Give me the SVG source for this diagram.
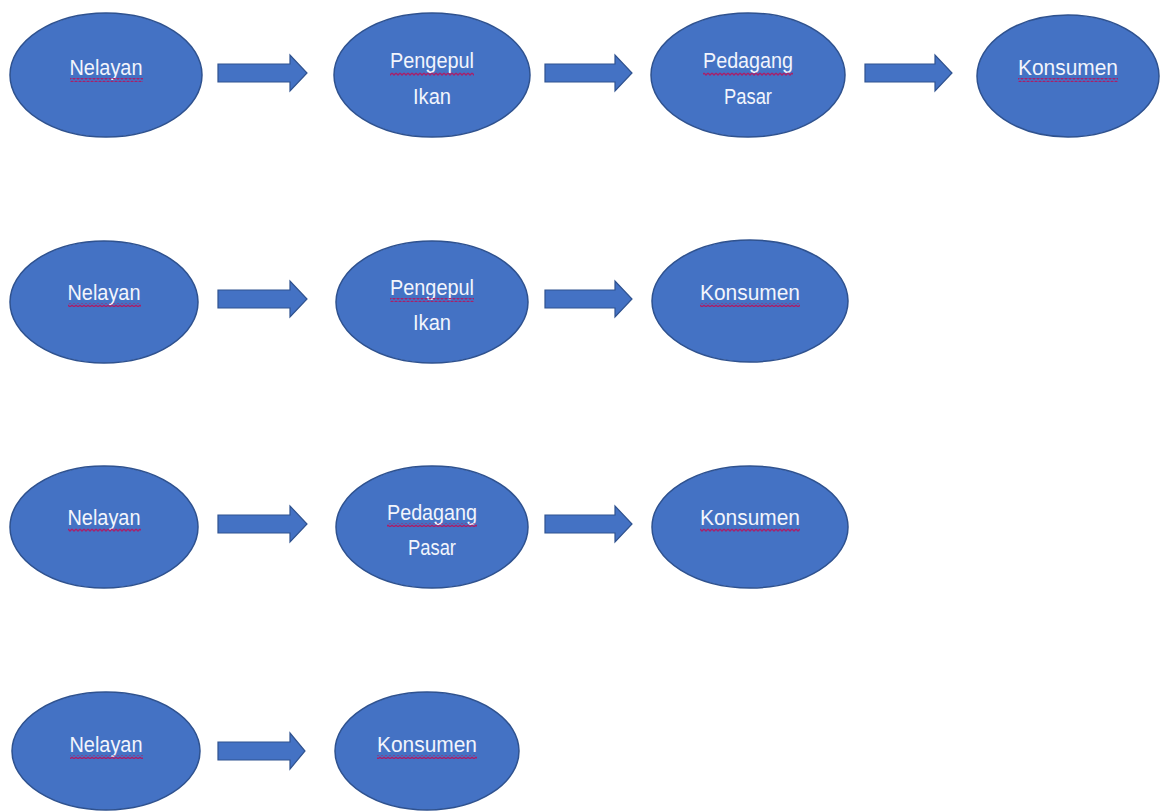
<svg xmlns="http://www.w3.org/2000/svg" width="1160" height="812" viewBox="0 0 1160 812">
<style>
.node ellipse{fill:#4472C4;stroke:#2F528F;stroke-width:1.5}
.node text{font-family:"Liberation Sans",Arial,sans-serif;font-size:22px;fill:#F2F5FC;text-anchor:middle}
.sq{fill:url(#squig)}
#connectors path{fill:#4472C4;stroke:#2F528F;stroke-width:1.2}
</style>
<defs>
<pattern id="squig" patternUnits="userSpaceOnUse" x="0" y="0" width="4" height="4">
<path d="M0,1 L2,3 L4,1" fill="none" stroke="#A8206A" stroke-width="1.4"/>
</pattern>
</defs>
<rect width="1160" height="812" fill="#FFFFFF"/>
<g id="connectors">
<path transform="translate(218,73)" d="M0,-9 H72 V-18 L89,0 L72,18 V9 H0 Z"/>
<path transform="translate(545,73)" d="M0,-9 H70 V-18 L87,0 L70,18 V9 H0 Z"/>
<path transform="translate(865,73)" d="M0,-9 H70 V-18 L87,0 L70,18 V9 H0 Z"/>
<path transform="translate(218,299)" d="M0,-9 H72 V-18 L89,0 L72,18 V9 H0 Z"/>
<path transform="translate(545,299)" d="M0,-9 H70 V-18 L87,0 L70,18 V9 H0 Z"/>
<path transform="translate(218,524)" d="M0,-9 H72 V-18 L89,0 L72,18 V9 H0 Z"/>
<path transform="translate(545,524)" d="M0,-9 H70 V-18 L87,0 L70,18 V9 H0 Z"/>
<path transform="translate(218,751)" d="M0,-9 H72 V-18 L87,0 L72,18 V9 H0 Z"/>
</g>
<g id="r1-nelayan" class="node"><ellipse cx="106" cy="75" rx="96" ry="62"/><text x="106" y="75" textLength="73" lengthAdjust="spacingAndGlyphs">Nelayan</text><rect class="sq" x="70" y="78" width="73" height="4"/></g>
<g id="r1-pengepul" class="node"><ellipse cx="432" cy="75" rx="98" ry="62"/><text x="432" y="68" textLength="84" lengthAdjust="spacingAndGlyphs">Pengepul</text><text x="432" y="104" textLength="38" lengthAdjust="spacingAndGlyphs">Ikan</text><rect class="sq" x="390" y="72" width="84" height="4"/></g>
<g id="r1-pedagang" class="node"><ellipse cx="748" cy="75" rx="97" ry="62"/><text x="748" y="68" textLength="90" lengthAdjust="spacingAndGlyphs">Pedagang</text><text x="748" y="104" textLength="48" lengthAdjust="spacingAndGlyphs">Pasar</text><rect class="sq" x="703" y="72" width="90" height="4"/></g>
<g id="r1-konsumen" class="node"><ellipse cx="1068" cy="76" rx="91" ry="61"/><text x="1068" y="75" textLength="100" lengthAdjust="spacingAndGlyphs">Konsumen</text><rect class="sq" x="1018" y="78" width="100" height="4"/></g>
<g id="r2-nelayan" class="node"><ellipse cx="104" cy="302" rx="94" ry="61"/><text x="104" y="300" textLength="73" lengthAdjust="spacingAndGlyphs">Nelayan</text><rect class="sq" x="68" y="303" width="73" height="4"/></g>
<g id="r2-pengepul" class="node"><ellipse cx="432" cy="302" rx="96" ry="61"/><text x="432" y="295" textLength="84" lengthAdjust="spacingAndGlyphs">Pengepul</text><text x="432" y="330" textLength="38" lengthAdjust="spacingAndGlyphs">Ikan</text><rect class="sq" x="390" y="298" width="84" height="4"/></g>
<g id="r2-konsumen" class="node"><ellipse cx="750" cy="301" rx="98" ry="61"/><text x="750" y="300" textLength="100" lengthAdjust="spacingAndGlyphs">Konsumen</text><rect class="sq" x="700" y="303" width="100" height="4"/></g>
<g id="r3-nelayan" class="node"><ellipse cx="104" cy="527" rx="94" ry="61"/><text x="104" y="525" textLength="73" lengthAdjust="spacingAndGlyphs">Nelayan</text><rect class="sq" x="68" y="528" width="73" height="4"/></g>
<g id="r3-pedagang" class="node"><ellipse cx="432" cy="527" rx="96" ry="61"/><text x="432" y="520" textLength="90" lengthAdjust="spacingAndGlyphs">Pedagang</text><text x="432" y="555" textLength="48" lengthAdjust="spacingAndGlyphs">Pasar</text><rect class="sq" x="387" y="523" width="90" height="4"/></g>
<g id="r3-konsumen" class="node"><ellipse cx="750" cy="527" rx="98" ry="61"/><text x="750" y="525" textLength="100" lengthAdjust="spacingAndGlyphs">Konsumen</text><rect class="sq" x="700" y="528" width="100" height="4"/></g>
<g id="r4-nelayan" class="node"><ellipse cx="106" cy="751" rx="94" ry="59"/><text x="106" y="752" textLength="73" lengthAdjust="spacingAndGlyphs">Nelayan</text><rect class="sq" x="70" y="755" width="73" height="4"/></g>
<g id="r4-konsumen" class="node"><ellipse cx="427" cy="751" rx="92" ry="59"/><text x="427" y="752" textLength="100" lengthAdjust="spacingAndGlyphs">Konsumen</text><rect class="sq" x="377" y="755" width="100" height="4"/></g>
</svg>
